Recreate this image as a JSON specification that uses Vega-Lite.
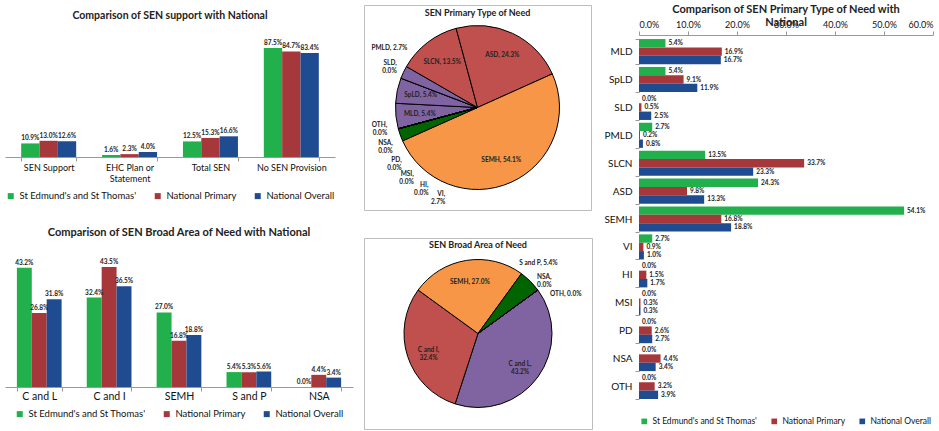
{
  "$schema": "https://vega.github.io/schema/vega-lite/v6.json",
  "padding": {"left": 5, "top": 0, "right": 4, "bottom": 0},
  "spacing": 10,
  "background": "white",
  "config": {
    "font": "Lato",
    "view": {"stroke": null},
    "title": {"fontSize": 10.5, "fontWeight": "bold", "color": "#222"},
    "axis": {"labelColor": "#111", "domainColor": "#999", "tickColor": "#999", "grid": false, "title": null, "tickSize": 4},
    "legend": {"orient": "bottom", "direction": "horizontal", "title": null, "symbolType": "square", "symbolSize": 36, "labelFontSize": 9.5, "columnPadding": 16, "offset": 6, "labelColor": "#111",
               "layout": {"bottom": {"anchor": "middle"}}}
  },
  "datasets": {
    "sup": [
      {"cat": "SEN Support", "series": "St Edmund's and St Thomas'", "v": 0.109},
      {"cat": "SEN Support", "series": "National Primary", "v": 0.13},
      {"cat": "SEN Support", "series": "National Overall", "v": 0.126},
      {"cat": "EHC Plan or Statement", "series": "St Edmund's and St Thomas'", "v": 0.016},
      {"cat": "EHC Plan or Statement", "series": "National Primary", "v": 0.023},
      {"cat": "EHC Plan or Statement", "series": "National Overall", "v": 0.04},
      {"cat": "Total SEN", "series": "St Edmund's and St Thomas'", "v": 0.125},
      {"cat": "Total SEN", "series": "National Primary", "v": 0.153},
      {"cat": "Total SEN", "series": "National Overall", "v": 0.166},
      {"cat": "No SEN Provision", "series": "St Edmund's and St Thomas'", "v": 0.875},
      {"cat": "No SEN Provision", "series": "National Primary", "v": 0.847},
      {"cat": "No SEN Provision", "series": "National Overall", "v": 0.834}
    ],
    "broad": [
      {"cat": "C and L", "series": "St Edmund's and St Thomas'", "v": 0.432},
      {"cat": "C and L", "series": "National Primary", "v": 0.268},
      {"cat": "C and L", "series": "National Overall", "v": 0.318},
      {"cat": "C and I", "series": "St Edmund's and St Thomas'", "v": 0.324},
      {"cat": "C and I", "series": "National Primary", "v": 0.435},
      {"cat": "C and I", "series": "National Overall", "v": 0.365},
      {"cat": "SEMH", "series": "St Edmund's and St Thomas'", "v": 0.27},
      {"cat": "SEMH", "series": "National Primary", "v": 0.168},
      {"cat": "SEMH", "series": "National Overall", "v": 0.188},
      {"cat": "S and P", "series": "St Edmund's and St Thomas'", "v": 0.054},
      {"cat": "S and P", "series": "National Primary", "v": 0.053},
      {"cat": "S and P", "series": "National Overall", "v": 0.056},
      {"cat": "NSA", "series": "St Edmund's and St Thomas'", "v": 0.0},
      {"cat": "NSA", "series": "National Primary", "v": 0.044},
      {"cat": "NSA", "series": "National Overall", "v": 0.034}
    ],
    "ptype": [
      {"cat": "MLD", "series": "St Edmund's and St Thomas'", "v": 0.054},
      {"cat": "MLD", "series": "National Primary", "v": 0.169},
      {"cat": "MLD", "series": "National Overall", "v": 0.167},
      {"cat": "SpLD", "series": "St Edmund's and St Thomas'", "v": 0.054},
      {"cat": "SpLD", "series": "National Primary", "v": 0.091},
      {"cat": "SpLD", "series": "National Overall", "v": 0.119},
      {"cat": "SLD", "series": "St Edmund's and St Thomas'", "v": 0.0},
      {"cat": "SLD", "series": "National Primary", "v": 0.005},
      {"cat": "SLD", "series": "National Overall", "v": 0.025},
      {"cat": "PMLD", "series": "St Edmund's and St Thomas'", "v": 0.027},
      {"cat": "PMLD", "series": "National Primary", "v": 0.002},
      {"cat": "PMLD", "series": "National Overall", "v": 0.008},
      {"cat": "SLCN", "series": "St Edmund's and St Thomas'", "v": 0.135},
      {"cat": "SLCN", "series": "National Primary", "v": 0.337},
      {"cat": "SLCN", "series": "National Overall", "v": 0.233},
      {"cat": "ASD", "series": "St Edmund's and St Thomas'", "v": 0.243},
      {"cat": "ASD", "series": "National Primary", "v": 0.098},
      {"cat": "ASD", "series": "National Overall", "v": 0.133},
      {"cat": "SEMH", "series": "St Edmund's and St Thomas'", "v": 0.541},
      {"cat": "SEMH", "series": "National Primary", "v": 0.168},
      {"cat": "SEMH", "series": "National Overall", "v": 0.188},
      {"cat": "VI", "series": "St Edmund's and St Thomas'", "v": 0.027},
      {"cat": "VI", "series": "National Primary", "v": 0.009},
      {"cat": "VI", "series": "National Overall", "v": 0.01},
      {"cat": "HI", "series": "St Edmund's and St Thomas'", "v": 0.0},
      {"cat": "HI", "series": "National Primary", "v": 0.015},
      {"cat": "HI", "series": "National Overall", "v": 0.017},
      {"cat": "MSI", "series": "St Edmund's and St Thomas'", "v": 0.0},
      {"cat": "MSI", "series": "National Primary", "v": 0.003},
      {"cat": "MSI", "series": "National Overall", "v": 0.003},
      {"cat": "PD", "series": "St Edmund's and St Thomas'", "v": 0.0},
      {"cat": "PD", "series": "National Primary", "v": 0.026},
      {"cat": "PD", "series": "National Overall", "v": 0.027},
      {"cat": "NSA", "series": "St Edmund's and St Thomas'", "v": 0.0},
      {"cat": "NSA", "series": "National Primary", "v": 0.044},
      {"cat": "NSA", "series": "National Overall", "v": 0.034},
      {"cat": "OTH", "series": "St Edmund's and St Thomas'", "v": 0.0},
      {"cat": "OTH", "series": "National Primary", "v": 0.032},
      {"cat": "OTH", "series": "National Overall", "v": 0.039}
    ],
    "pie1": [
      {"type": "MLD", "area": "C and L", "pct": 0.054},
      {"type": "SpLD", "area": "C and L", "pct": 0.054},
      {"type": "SLD", "area": "C and L", "pct": 0.0},
      {"type": "PMLD", "area": "C and L", "pct": 0.027},
      {"type": "SLCN", "area": "C and I", "pct": 0.135},
      {"type": "ASD", "area": "C and I", "pct": 0.243},
      {"type": "SEMH", "area": "SEMH", "pct": 0.541},
      {"type": "VI", "area": "S and P", "pct": 0.027},
      {"type": "HI", "area": "S and P", "pct": 0.0},
      {"type": "MSI", "area": "S and P", "pct": 0.0},
      {"type": "PD", "area": "S and P", "pct": 0.0},
      {"type": "NSA", "area": "NSA", "pct": 0.0},
      {"type": "OTH", "area": "OTH", "pct": 0.0}
    ],
    "pie2": [
      {"area": "C and L", "pct": 0.432},
      {"area": "C and I", "pct": 0.324},
      {"area": "SEMH", "pct": 0.27},
      {"area": "S and P", "pct": 0.054},
      {"area": "NSA", "pct": 0.0},
      {"area": "OTH", "pct": 0.0}
    ]
  },
  "columns": 3,
  "align": "none",
  "resolve": {"scale": {"color": "independent", "xOffset": "independent", "yOffset": "independent"}, "legend": {"color": "independent"}},
  "concat": [
    {
      "spacing": 26,
      "resolve": {"scale": {"color": "independent", "xOffset": "independent"}, "legend": {"color": "independent"}},
      "vconcat": [
        {
          "width": 330, "height": 152,
          "title": {"text": "Comparison of SEN support with National", "offset": -16},
          "data": {"name": "sup"},
          "encoding": {
            "x": {"field": "cat", "type": "nominal", "sort": null, "scale": {"paddingInner": 0.32, "paddingOuter": 0.2},
                  "axis": {"labelAngle": 0, "tickBand": "extent", "labelFontSize": 9, "labelPadding": 2,
                           "labelExpr": "datum.label == 'EHC Plan or Statement' ? ['EHC Plan or', 'Statement'] : datum.label"}},
            "xOffset": {"field": "series", "sort": ["St Edmund's and St Thomas'", "National Primary", "National Overall"]},
            "y": {"field": "v", "type": "quantitative", "scale": {"domain": [0, 1.22]}, "axis": null}
          },
          "layer": [
            {"mark": "bar",
             "encoding": {"color": {"field": "series", "type": "nominal", "sort": ["St Edmund's and St Thomas'", "National Primary", "National Overall"],
                                    "scale": {"range": ["#21B04B", "#A6373A", "#1F4B91"]}, "legend": {"offset": 8}}}},
            {"mark": {"type": "text", "baseline": "bottom", "dy": -2, "fontSize": 6.5, "fontWeight": "bold", "color": "#222"},
             "encoding": {"text": {"field": "v", "format": ".1%"}}}
          ]
        },
        {
          "width": 348, "height": 138,
          "title": {"text": "Comparison of SEN Broad Area of Need with National", "fontSize": 11, "offset": 11},
          "data": {"name": "broad"},
          "encoding": {
            "x": {"field": "cat", "type": "nominal", "sort": null, "scale": {"paddingInner": 0.36, "paddingOuter": 0.17},
                  "axis": {"labelAngle": 0, "tickBand": "extent", "labelFontSize": 10.5, "labelPadding": 0}},
            "xOffset": {"field": "series", "sort": ["St Edmund's and St Thomas'", "National Primary", "National Overall"]},
            "y": {"field": "v", "type": "quantitative", "scale": {"domain": [0, 0.5]}, "axis": null}
          },
          "layer": [
            {"mark": "bar",
             "encoding": {"color": {"field": "series", "type": "nominal", "sort": ["St Edmund's and St Thomas'", "National Primary", "National Overall"],
                                    "scale": {"range": ["#21B04B", "#A6373A", "#1F4B91"]}, "legend": {"offset": 7}}}},
            {"mark": {"type": "text", "baseline": "bottom", "dy": -2, "fontSize": 6.5, "fontWeight": "bold", "color": "#222"},
             "encoding": {"text": {"field": "v", "format": ".1%"}}}
          ]
        }
      ]
    },
    {
      "spacing": 26,
      "resolve": {"scale": {"color": "independent", "theta": "independent"}, "legend": {"color": "independent"}},
      "vconcat": [
        {
          "width": 227, "height": 205,
          "view": {"stroke": "#bdbdbd"},
          "title": {"text": "SEN Primary Type of Need", "fontSize": 9, "offset": -13},
          "data": {"name": "pie1"},
          "transform": [
            {"window": [{"op": "row_number", "as": "idx"}]},
            {"calculate": "max(datum.pct, 0.045)", "as": "w"}
          ],
          "layer": [
            {"mark": {"type": "arc", "radius": 82, "stroke": "#000", "strokeWidth": 1},
             "encoding": {
               "theta": {"field": "pct", "type": "quantitative", "stack": true, "scale": {"range": [-1.833, 4.450]}},
               "color": {"field": "area", "type": "nominal", "scale": {"domain": ["C and L", "C and I", "SEMH", "S and P", "NSA", "OTH"], "range": ["#8064A2", "#C0504D", "#F79646", "#006400", "#4BACC6", "#7F7F7F"]}, "legend": null},
               "order": {"field": "idx", "type": "quantitative"}}},
            {"mark": {"type": "text", "radius": 58, "fontSize": 6.5, "fontWeight": "bold", "color": "#222",
                      "text": {"expr": "datum.pct >= 0.05 ? datum.type + ', ' + format(datum.pct, '.1%') : ''"}},
             "encoding": {
               "theta": {"field": "pct", "type": "quantitative", "stack": true, "scale": {"range": [-1.833, 4.450]}},
               "order": {"field": "idx", "type": "quantitative"}}},
            {"mark": {"type": "text", "radius": 92, "fontSize": 6.5, "fontWeight": "bold", "color": "#222", "align": "right", "lineHeight": 8,
                      "text": {"expr": "datum.pct >= 0.05 ? '' : (datum.type == 'PMLD' ? datum.type + ', ' + format(datum.pct, '.1%') : [datum.type + ',', format(datum.pct, '.1%')])"}},
             "encoding": {
               "theta": {"field": "w", "type": "quantitative", "stack": true, "scale": {"range": [-1.663, 4.620]}},
               "order": {"field": "idx", "type": "quantitative"}}}
          ],
          "resolve": {"scale": {"theta": "independent"}}
        },
        {
          "width": 228, "height": 191,
          "view": {"stroke": "#bdbdbd"},
          "title": {"text": "SEN Broad Area of Need", "fontSize": 9, "offset": -12},
          "data": {"name": "pie2"},
          "transform": [
            {"window": [{"op": "row_number", "as": "idx"}]},
            {"calculate": "max(datum.pct, 0.05)", "as": "w"}
          ],
          "layer": [
            {"mark": {"type": "arc", "radius": 74, "stroke": "#000", "strokeWidth": 1},
             "encoding": {
               "theta": {"field": "pct", "type": "quantitative", "stack": true, "scale": {"range": [0.9425, 7.2257]}},
               "color": {"field": "area", "type": "nominal", "scale": {"domain": ["C and L", "C and I", "SEMH", "S and P", "NSA", "OTH"], "range": ["#8064A2", "#C0504D", "#F79646", "#006400", "#4BACC6", "#7F7F7F"]}, "legend": null},
               "order": {"field": "idx", "type": "quantitative"}}},
            {"mark": {"type": "text", "radius": 52, "fontSize": 6.5, "fontWeight": "bold", "color": "#222", "lineHeight": 8,
                      "text": {"expr": "datum.pct >= 0.1 ? (datum.area == 'SEMH' ? datum.area + ', ' + format(datum.pct, '.1%') : [datum.area + ',', format(datum.pct, '.1%')]) : ''"}},
             "encoding": {
               "theta": {"field": "pct", "type": "quantitative", "stack": true, "scale": {"range": [0.9425, 7.2257]}},
               "order": {"field": "idx", "type": "quantitative"}}},
            {"mark": {"type": "text", "radius": 82, "fontSize": 6.5, "fontWeight": "bold", "color": "#222", "align": "left", "lineHeight": 8,
                      "text": {"expr": "datum.pct >= 0.1 ? '' : (datum.area == 'NSA' ? [datum.area + ',', format(datum.pct, '.1%')] : datum.area + ', ' + format(datum.pct, '.1%'))"}},
             "encoding": {
               "theta": {"field": "w", "type": "quantitative", "stack": true, "scale": {"range": [1.2043, 7.4875]}},
               "order": {"field": "idx", "type": "quantitative"}}}
          ],
          "resolve": {"scale": {"theta": "independent"}}
        }
      ]
    },
    {
      "width": 294, "height": 394,
      "title": {"text": ["Comparison of SEN Primary Type of Need with", "National"], "fontSize": 11, "lineHeight": 13, "offset": -28},
      "data": {"name": "ptype"},
      "encoding": {
        "y": {"field": "cat", "type": "nominal", "sort": null, "scale": {"paddingInner": 0.1, "paddingOuter": 0.61, "align": 1},
              "axis": {"tickBand": "extent", "labelFontSize": 10, "labelPadding": 3, "domain": false}},
        "yOffset": {"field": "series", "sort": ["St Edmund's and St Thomas'", "National Primary", "National Overall"]},
        "x": {"field": "v", "type": "quantitative", "scale": {"domain": [0, 0.6]},
              "axis": {"orient": "top", "offset": -30, "format": ".1%", "values": [0, 0.1, 0.2, 0.3, 0.4, 0.5, 0.6], "labelFontSize": 9}}
      },
      "layer": [
        {"mark": "bar",
         "encoding": {"color": {"field": "series", "type": "nominal", "sort": ["St Edmund's and St Thomas'", "National Primary", "National Overall"],
                                "scale": {"range": ["#21B04B", "#A6373A", "#1F4B91"]}, "legend": {"offset": 18, "labelFontSize": 8.5, "columnPadding": 12, "symbolSize": 32}}}},
        {"mark": {"type": "text", "align": "left", "dx": 3, "fontSize": 6.5, "fontWeight": "bold", "color": "#222"},
         "encoding": {"text": {"field": "v", "format": ".1%"}}}
      ]
    }
  ]
}
